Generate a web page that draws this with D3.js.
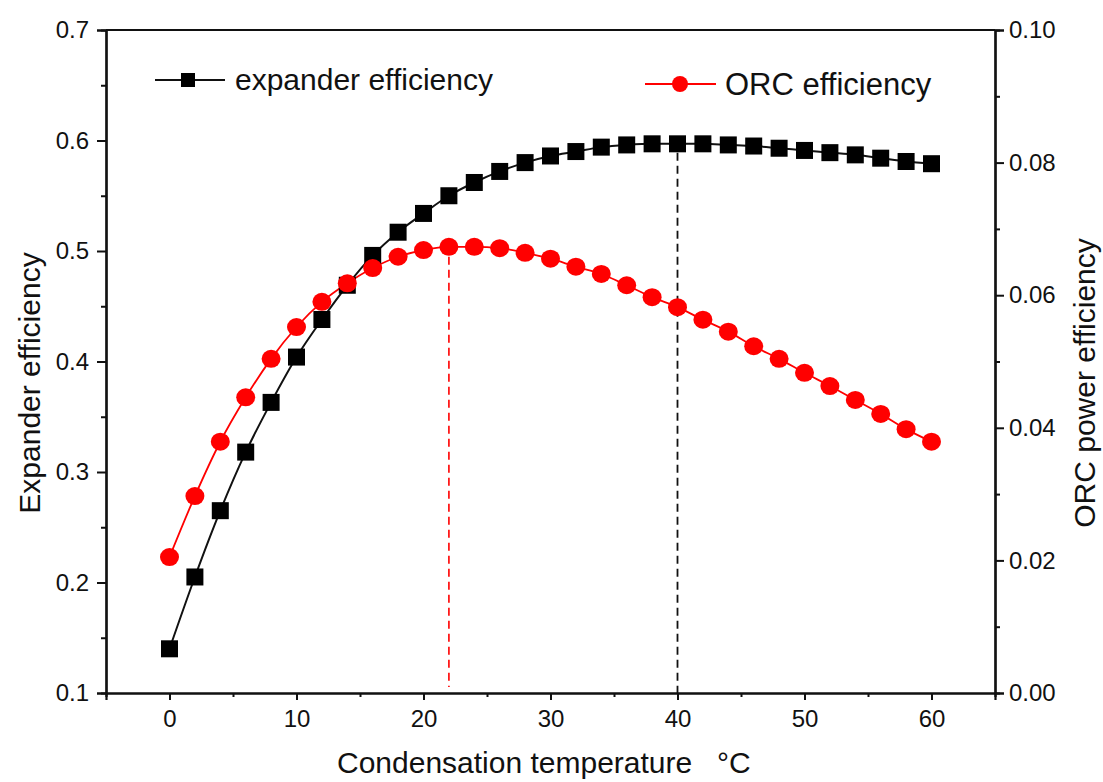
<!DOCTYPE html>
<html>
<head>
<meta charset="utf-8">
<script src="https://cdn.jsdelivr.net/npm/d3@7"></script>
<style>
  html, body { margin: 0; padding: 0; background: #fff; }
  svg { display: block; }
  text { font-family: "Liberation Sans", Arial, Helvetica, sans-serif; fill: #111; }
</style>
</head>
<body>
<svg id="chart" width="1103" height="782"></svg>
<script>
// ---- data ----
const temps = [0,2,4,6,8,10,12,14,16,18,20,22,24,26,28,30,32,34,36,38,40,42,44,46,48,50,52,54,56,58,60];
const expanderEff = [0.140,0.205,0.265,0.318,0.363,0.404,0.438,0.469,0.496,0.517,0.534,0.550,0.562,0.572,0.580,0.586,0.590,0.594,0.596,0.597,0.597,0.597,0.596,0.595,0.593,0.591,0.589,0.587,0.584,0.581,0.579];
const orcEff = [0.0205,0.0297,0.0379,0.0446,0.0504,0.0552,0.0590,0.0618,0.0641,0.0658,0.0668,0.0673,0.0673,0.0671,0.0664,0.0655,0.0643,0.0632,0.0615,0.0597,0.0582,0.0563,0.0545,0.0523,0.0504,0.0483,0.0463,0.0442,0.0421,0.0398,0.0379];
const xTicks = [0,10,20,30,40,50,60];
const leftTicks = [0.1,0.2,0.3,0.4,0.5,0.6,0.7];
const rightTicks = [0.00,0.02,0.04,0.06,0.08,0.10];
const expanderPeakT = 40;
const orcPeakT = 22;
const labels = {
  x: "Condensation temperature",
  xUnit: "°C",
  yLeft: "Expander efficiency",
  yRight: "ORC power efficiency",
  legendExp: "expander efficiency",
  legendOrc: "ORC efficiency"
};

// ---- layout ----
const svg = d3.select("#chart");
const L = 106, R = 995, T = 30, B = 693;

const x = d3.scaleLinear().domain([-5, 65]).range([L, R]);
const yL = d3.scaleLinear().domain([0.1, 0.7]).range([B, T]);
const yR = d3.scaleLinear().domain([0, 0.10]).range([B, T]);

const fmt1 = d3.format(".1f"), fmt2 = d3.format(".2f");

// x axis
const xMinor = d3.range(-5, 66, 5).filter(v => !xTicks.includes(v) && v > -5 && v < 65);
const gx = svg.append("g").attr("transform", `translate(0,${B})`);
gx.call(d3.axisBottom(x).tickValues(xTicks).tickSize(7).tickPadding(10).tickFormat(d3.format("d")));
gx.append("g").call(d3.axisBottom(x).tickValues(xMinor).tickSize(4).tickFormat(""));
gx.selectAll(".domain").attr("stroke", "#111").attr("stroke-width", 2.2);
gx.selectAll(".tick line").attr("stroke", "#111").attr("stroke-width", 2);
gx.selectAll("text").attr("font-size", 24).attr("fill", "#111").attr("dy", "0.71em");

// left axis
const leftMinor = d3.range(0.15, 0.7, 0.1);
const gl = svg.append("g").attr("transform", `translate(${L},0)`);
gl.call(d3.axisLeft(yL).tickValues(leftTicks).tickSize(9).tickPadding(8).tickFormat(fmt1));
gl.append("g").call(d3.axisLeft(yL).tickValues(leftMinor).tickSize(5).tickFormat(""));
gl.selectAll(".domain").attr("stroke", "#111").attr("stroke-width", 2.2);
gl.selectAll(".tick line").attr("stroke", "#111").attr("stroke-width", 2);
gl.selectAll("text").attr("font-size", 24).attr("fill", "#111");

// right axis
const rightMinor = d3.range(0.01, 0.1, 0.02);
const gr = svg.append("g").attr("transform", `translate(${R},0)`);
gr.call(d3.axisRight(yR).tickValues(rightTicks).tickSize(9).tickPadding(5).tickFormat(fmt2));
gr.append("g").call(d3.axisRight(yR).tickValues(rightMinor).tickSize(5).tickFormat(""));
gr.selectAll(".domain").attr("stroke", "#111").attr("stroke-width", 2.2);
gr.selectAll(".tick line").attr("stroke", "#111").attr("stroke-width", 2);
gr.selectAll("text").attr("font-size", 24).attr("fill", "#111");

// top frame line
svg.append("line").attr("x1", L).attr("x2", R).attr("y1", T).attr("y2", T)
  .attr("stroke", "#111").attr("stroke-width", 2.2);

// dashed peak markers
svg.append("line")
  .attr("x1", x(expanderPeakT)).attr("x2", x(expanderPeakT))
  .attr("y1", yL(expanderEff[temps.indexOf(expanderPeakT)]) + 9).attr("y2", B)
  .attr("stroke", "#111").attr("stroke-width", 1.8).attr("stroke-dasharray", "8,5");
svg.append("line")
  .attr("x1", x(orcPeakT)).attr("x2", x(orcPeakT))
  .attr("y1", yR(orcEff[temps.indexOf(orcPeakT)]) + 10).attr("y2", B - 6)
  .attr("stroke", "#ff1a1a").attr("stroke-width", 1.8).attr("stroke-dasharray", "8,5");

// lines
const expData = temps.map((t, i) => ({t, v: expanderEff[i]}));
const orcData = temps.map((t, i) => ({t, v: orcEff[i]}));

svg.append("path").datum(expData)
  .attr("fill", "none").attr("stroke", "#111").attr("stroke-width", 2)
  .attr("d", d3.line().x(d => x(d.t)).y(d => yL(d.v)).curve(d3.curveMonotoneX));
svg.append("path").datum(orcData)
  .attr("fill", "none").attr("stroke", "#ff0000").attr("stroke-width", 1.8)
  .attr("d", d3.line().x(d => x(d.t)).y(d => yR(d.v)).curve(d3.curveMonotoneX));

// markers
const sq = 17;
svg.append("g").selectAll("rect").data(expData).join("rect")
  .attr("x", d => x(d.t) - sq / 2).attr("y", d => yL(d.v) - sq / 2)
  .attr("width", sq).attr("height", sq).attr("fill", "#000");
svg.append("g").selectAll("ellipse").data(orcData).join("ellipse")
  .attr("cx", d => x(d.t)).attr("cy", d => yR(d.v))
  .attr("rx", 9.5).attr("ry", 9).attr("fill", "#ff0000");

// legend
const lg1 = svg.append("g");
lg1.append("line").attr("x1", 155).attr("x2", 225).attr("y1", 80).attr("y2", 80)
  .attr("stroke", "#111").attr("stroke-width", 2);
lg1.append("rect").attr("x", 188 - 7).attr("y", 80 - 7).attr("width", 14).attr("height", 14).attr("fill", "#000");
lg1.append("text").attr("x", 235).attr("y", 90).attr("font-size", 30).text(labels.legendExp);

const lg2 = svg.append("g");
lg2.append("line").attr("x1", 645).attr("x2", 716).attr("y1", 84).attr("y2", 84)
  .attr("stroke", "#ff0000").attr("stroke-width", 1.8);
lg2.append("circle").attr("cx", 680).attr("cy", 84).attr("r", 8).attr("fill", "#ff0000");
lg2.append("text").attr("x", 725).attr("y", 95).attr("font-size", 31).text(labels.legendOrc);

// axis titles
svg.append("text").attr("transform", `translate(40,383) rotate(-90)`)
  .attr("text-anchor", "middle").attr("font-size", 30).text(labels.yLeft);
svg.append("text").attr("transform", `translate(1074,383) rotate(-90)`)
  .attr("text-anchor", "middle").attr("font-size", 30).attr("dy", "0.71em").text(labels.yRight);
const xt = svg.append("text").attr("x", 337).attr("y", 773).attr("font-size", 30);
xt.append("tspan").text(labels.x);
xt.append("tspan").attr("x", 717).text(labels.xUnit);
</script>
</body>
</html>
